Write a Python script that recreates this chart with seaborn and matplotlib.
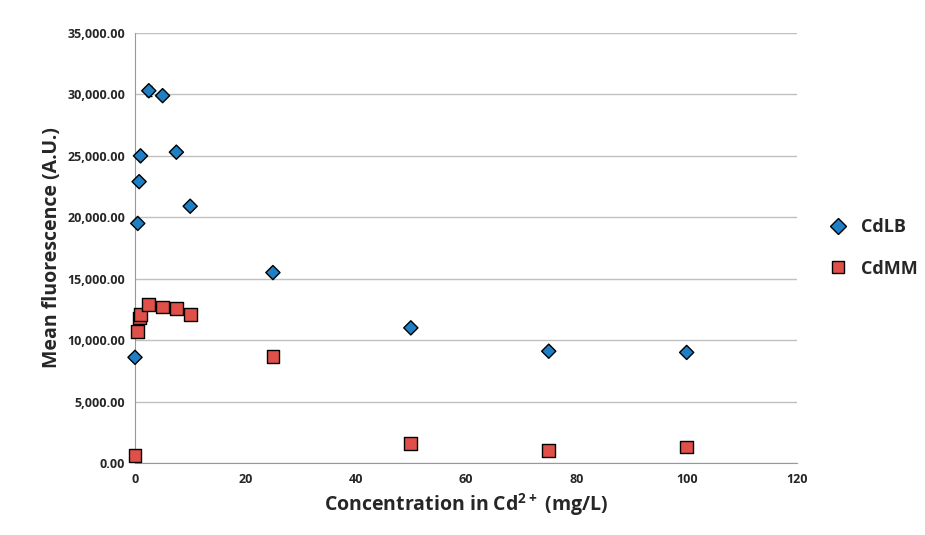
import matplotlib
matplotlib.use('Agg')
import matplotlib.pyplot as plt
import seaborn as sns
import pandas as pd

conc = [0, 0.5, 0.75, 1, 2.5, 5, 7.5, 10, 25, 50, 75, 100]
cdlb = [8600, 19500, 22900, 25000, 30300, 29900, 25300, 20900, 15500, 11000, 9100, 9000]
cdlb_err = [100, 150, 150, 150, 400, 150, 150, 150, 150, 150, 150, 150]
cdmm = [600, 10700, 11800, 12100, 12900, 12700, 12600, 12100, 8700, 1600, 1000, 1300]
cdmm_err = [100, 200, 300, 200, 200, 150, 150, 150, 150, 150, 150, 400]

df = pd.DataFrame({'conc': conc * 2, 'value': cdlb + cdmm,
                   'series': ['CdLB'] * len(conc) + ['CdMM'] * len(conc)})

sns.set_style('white')
plt.rcParams['font.family'] = ['Open Sans', 'DejaVu Sans']
plt.rcParams['mathtext.fontset'] = 'custom'
plt.rcParams['mathtext.bf'] = 'Open Sans:bold'
plt.rcParams['mathtext.rm'] = 'Open Sans:bold'
fig = plt.figure(figsize=(9.25, 5.35), dpi=100)
ax = fig.add_axes([135/925, 72/535, 662/925, 430/535])

ax.errorbar(conc, cdlb, yerr=cdlb_err, fmt='none', ecolor='black', lw=1, capsize=2, zorder=2, clip_on=False)
ax.errorbar(conc, cdmm, yerr=cdmm_err, fmt='none', ecolor='black', lw=1, capsize=2, zorder=2, clip_on=False)
sns.scatterplot(data=df, x='conc', y='value', hue='series', style='series',
                markers={'CdLB': 'D', 'CdMM': 's'},
                palette={'CdLB': '#1f7fc4', 'CdMM': '#e0504a'},
                s=45, edgecolor='black', linewidth=1, ax=ax, zorder=3, clip_on=False)
coll = ax.collections[-1]
coll.set_sizes([52 if s == 'CdLB' else 85 for s in df['series']])

ax.set_xlim(0, 120)
ax.set_ylim(0, 35000)
ax.set_xticks(range(0, 121, 20))
ax.set_yticks(range(0, 35001, 5000))
ax.set_yticklabels([f'{v:,.2f}' for v in range(0, 35001, 5000)], fontsize=9, fontweight='bold')
ax.set_xticklabels(range(0, 121, 20), fontsize=9, fontweight='bold')
ax.yaxis.grid(True, color='#c0c0c0', lw=1)
for s in ['top', 'right']:
    ax.spines[s].set_visible(False)
ax.spines['left'].set_color('#999999')
ax.spines['bottom'].set_color('#999999')
ax.set_xlabel(r'Concentration in Cd$^{\mathbf{2+}}$ (mg/L)', fontsize=14, fontweight='bold')
ax.set_ylabel('Mean fluorescence (A.U.)', fontsize=14, fontweight='bold')
leg = ax.legend(loc='center left', bbox_to_anchor=(1.01, 0.5), frameon=False,
                prop={'size': 13, 'weight': 'bold'}, labelspacing=1.3, handletextpad=0.3,
                markerscale=1.2)
fig.savefig('out.png', dpi=100)
